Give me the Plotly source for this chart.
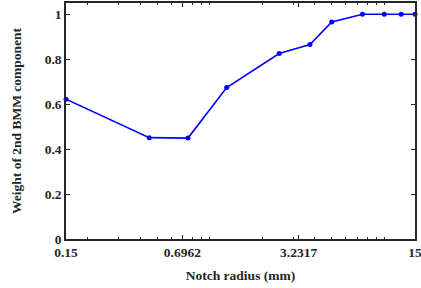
import plotly.graph_objects as go
import numpy as np

notch_radius = [0.15, 0.45, 0.75, 1.25, 2.5, 3.75, 5.0, 7.5, 10.0, 12.5, 15.0]
weight = [0.622, 0.451, 0.449, 0.674, 0.825, 0.865, 0.966, 1.0, 1.0, 1.0, 1.0]
x_tick_vals = [0.15, 0.6962, 3.2317, 15]
x_tick_text = ["0.15", "0.6962", "3.2317", "15"]
y_tick_vals = [0, 0.2, 0.4, 0.6, 0.8, 1.0]
y_tick_text = ["0", "0.2", "0.4", "0.6", "0.8", "1"]
minor_vals = [0.2, 0.3, 0.4, 0.5, 0.6, 0.7, 0.8, 0.9, 1, 2, 3, 4, 5, 6, 7, 8, 9, 10]

FAM = "Liberation Serif"
COL = "#262626"
bold = dict(family=FAM, size=13.5, color=COL, weight="bold")

fig = go.Figure()
fig.add_trace(go.Scatter(
    x=notch_radius, y=weight, mode="lines+markers",
    line=dict(color="#0000FF", width=1.6),
    marker=dict(color="#0000FF", size=5),
    cliponaxis=False,
))
fig.update_layout(
    width=421, height=288,
    margin=dict(l=66, r=6, t=3, b=49),
    paper_bgcolor="white", plot_bgcolor="white",
    showlegend=False,
    font=dict(family=FAM, size=13.5, color=COL),
)
fig.update_xaxes(
    type="log", range=[np.log10(0.15), np.log10(15)],
    tickmode="array", tickvals=x_tick_vals, ticktext=x_tick_text,
    ticks="inside", ticklen=4, tickcolor=COL, tickwidth=1,
    minor=dict(tickmode="array", tickvals=minor_vals, ticks="inside", ticklen=2.5,
               tickcolor=COL, tickwidth=1, showgrid=False),
    showline=True, linecolor=COL, linewidth=1.5, mirror="allticks",
    showgrid=False, zeroline=False, automargin=False,
    ticklabeloverflow="allow", ticklabelstandoff=0,
    tickfont=bold,
    title=dict(text="Notch radius (mm)", font=bold, standoff=12),
)
fig.update_yaxes(
    range=[0, 1.05],
    tickmode="array", tickvals=y_tick_vals, ticktext=y_tick_text,
    ticks="inside", ticklen=4, tickcolor=COL, tickwidth=1,
    showline=True, linecolor=COL, linewidth=1.5, mirror="allticks",
    showgrid=False, zeroline=False, automargin=False,
    ticklabeloverflow="allow",
    tickfont=bold,
    title=dict(text="Weight of 2nd BMM component", font=bold, standoff=20),
)
fig.write_html("out.html", config={"displayModeBar": False},
               post_script="document.body.style.margin='0';document.body.style.padding='0';")
